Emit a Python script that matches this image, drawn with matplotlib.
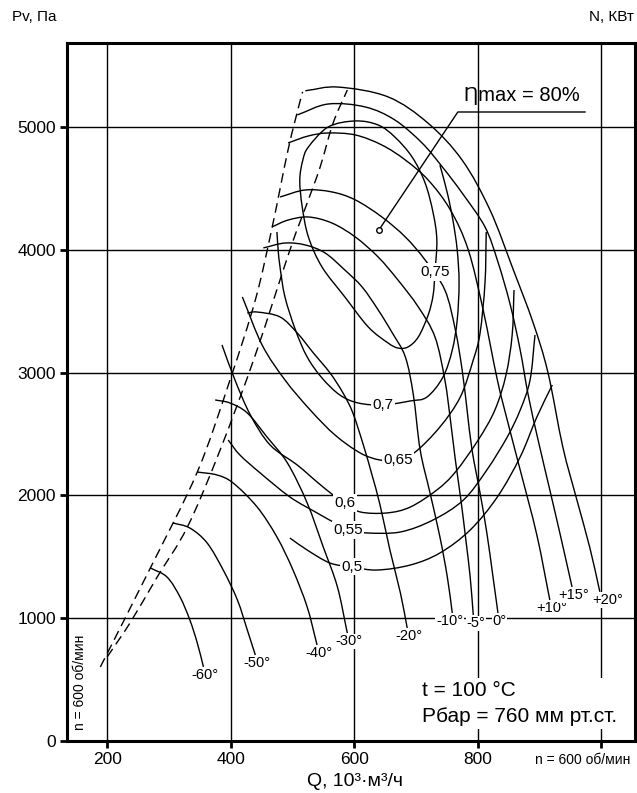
import numpy as np
import matplotlib.pyplot as plt
from matplotlib.path import Path
from matplotlib.patches import PathPatch

plt.rcParams["font.family"] = ["Liberation Sans", "DejaVu Sans"]

# Q in 10^3 m3/h, Pv in Pa
# blade angle curves
ANGLE_LABELS = ["-60°", "-50°", "-40°", "-30°", "-20°", "-10°", "-5°", "0°", "+10°", "+15°", "+20°"]

Q_M60 = [270, 297, 318, 334, 346, 356]
P_M60 = [1409, 1335, 1173, 985, 798, 603]
Q_M50 = [307, 334, 362, 388, 411, 427, 440]
P_M50 = [1775, 1734, 1612, 1392, 1148, 904, 700]
Q_M40 = [346, 378, 404, 443, 475, 501, 524, 540]
P_M40 = [2190, 2166, 2101, 1905, 1661, 1392, 1091, 782]
Q_M30 = [375, 399, 427, 459, 492, 524, 550, 573, 589]
P_M30 = [2777, 2752, 2671, 2475, 2264, 1938, 1580, 1254, 879]
Q_M20 = [427, 443, 480, 508, 534, 561, 582, 598, 615, 629, 642, 658, 675, 686]
P_M20 = [3485, 3493, 3453, 3322, 3160, 2997, 2834, 2671, 2410, 2166, 1922, 1555, 1205, 920]
Q_M10 = [453, 488, 521, 553, 585, 613, 639, 662, 683, 696, 707, 723, 739, 751, 759]
P_M10 = [4015, 4055, 4039, 3974, 3835, 3697, 3510, 3322, 3127, 2817, 2370, 2019, 1661, 1335, 1042]
Q_M5 = [467, 493, 526, 564, 602, 639, 671, 704, 731, 747, 756, 764, 773, 781, 788, 793]
P_M5 = [4186, 4242, 4267, 4218, 4104, 3941, 3754, 3534, 3290, 2940, 2614, 2288, 1962, 1637, 1335, 1026]
Q_0 = [480, 521, 564, 602, 645, 683, 715, 747, 764, 775, 783, 791, 804, 815, 825, 833]
P_0 = [4430, 4487, 4471, 4406, 4267, 4104, 3917, 3672, 3347, 3021, 2695, 2370, 2019, 1694, 1335, 1042]
Q_P10 = [493, 526, 558, 602, 645, 683, 720, 756, 785, 809, 832, 848, 869, 896, 917]
P_P10 = [4870, 4927, 4951, 4935, 4853, 4731, 4568, 4324, 3998, 3510, 2940, 2614, 2207, 1677, 1148]
Q_P15 = [508, 558, 618, 666, 710, 743, 775, 812, 833, 853, 869, 882, 898, 917, 934, 953]
P_P15 = [5098, 5187, 5163, 5057, 4870, 4674, 4462, 4186, 3900, 3550, 3184, 2817, 2451, 2044, 1677, 1254]
Q_P20 = [521, 574, 655, 720, 775, 820, 858, 890, 914, 938, 961, 982, 998]
P_P20 = [5295, 5325, 5245, 5030, 4730, 4325, 3835, 3405, 3000, 2395, 1960, 1570, 1215]

# efficiency contours
ETA_LABELS = ["0,75", "0,7", "0,65", "0,6", "0,55", "0,5"]
ETA_LABEL_IDX = [11, 9, 7, 7, 6, 3]

Q_E75 = [512, 517, 526, 558, 602, 639, 666, 694, 715, 728, 734, 731, 728, 720,
         704, 687, 671, 655, 623, 585, 548, 526, 516, 512]
P_E75 = [4568, 4731, 4837, 5000, 5049, 5016, 4918, 4755, 4544, 4300, 4080, 3819, 3632, 3469,
         3290, 3208, 3200, 3241, 3371, 3616, 3860, 4104, 4348, 4568]
Q_E70 = [475, 477, 480, 488, 505, 524, 548, 577, 607, 647, 691, 718, 744, 759, 767, 770, 767, 760, 751, 739]
P_E70 = [4145, 3998, 3860, 3616, 3347, 3127, 2956, 2817, 2752, 2736, 2769, 2801, 2964, 3184, 3428,
         3730, 3998, 4242, 4462, 4690]
Q_E65 = [419, 451, 488, 529, 569, 610, 642, 671, 699, 739, 772, 793, 804, 812, 814]
P_E65 = [3616, 3225, 2940, 2695, 2492, 2345, 2288, 2288, 2353, 2557, 2801, 3103, 3322, 3730, 4145]
Q_E60 = [386, 407, 432, 464, 508, 540, 566, 585, 610, 653, 691, 734, 764, 801, 828, 846, 856, 859]
P_E60 = [3225, 2940, 2655, 2410, 2247, 2109, 2003, 1938, 1865, 1857, 1905, 2044, 2190, 2451, 2695,
         2980, 3306, 3672]
Q_E55 = [396, 415, 448, 496, 540, 569, 590, 621, 675, 728, 777, 815, 848, 869, 885, 893]
P_E55 = [2451, 2329, 2182, 1987, 1857, 1775, 1718, 1694, 1702, 1800, 1962, 2207, 2475, 2695, 2940, 3306]
Q_E50 = [496, 524, 561, 597, 637, 691, 739, 788, 832, 869, 896, 921]
P_E50 = [1653, 1555, 1449, 1417, 1392, 1433, 1531, 1718, 1987, 2313, 2638, 2899]

# surge limit lines (dashed)
Q_SURGE_L = [189, 270, 346, 399, 440, 467, 493, 513, 517]
P_SURGE_L = [603, 1409, 2190, 2940, 3591, 4177, 4813, 5220, 5285]
Q_SURGE_R = [200, 237, 281, 330, 383, 440, 496, 524, 545, 566, 589]
P_SURGE_R = [684, 961, 1335, 1743, 2370, 3143, 3998, 4381, 4674, 5032, 5301]

# best efficiency point
ETA_MAX_Q = 640
ETA_MAX_P = 4160

X_TICKS = [200, 400, 600, 800, 1000]
X_TICK_LABELS = ["200", "400", "600", "800", ""]
Y_TICKS = [0, 1000, 2000, 3000, 4000, 5000]

# small nudges so neighbouring angle labels don't collide
LABEL_NUDGE = {"-10°": -2, "-5°": 2, "+20°": 6}


def smooth_path(q, p, closed=False):
    # Catmull-Rom through the read points, drawn as cubic Bezier segments
    pts = np.column_stack([q, p]).astype(float)
    if closed:
        pts = np.vstack([pts[-2], pts, pts[1]])
    else:
        pts = np.vstack([2 * pts[0] - pts[1], pts, 2 * pts[-1] - pts[-2]])
    verts = [pts[1]]
    codes = [Path.MOVETO]
    for i in range(1, len(pts) - 2):
        p0, p1, p2, p3 = pts[i - 1], pts[i], pts[i + 1], pts[i + 2]
        verts += [p1 + (p2 - p0) / 6, p2 - (p3 - p1) / 6, p2]
        codes += [Path.CURVE4] * 3
    return Path(verts, codes)


def draw_curve(ax, q, p, closed=False, **kw):
    patch = PathPatch(smooth_path(q, p, closed), fill=False, **kw)
    ax.add_patch(patch)


fig = plt.figure(figsize=(6.37, 7.93), dpi=100)
ax = fig.add_axes([0.1052, 0.0656, 0.8917, 0.8802])
ax.set_xlim(135, 1055)
ax.set_ylim(0, 5684)

ax.set_xticks(X_TICKS)
ax.set_xticklabels(X_TICK_LABELS)
ax.set_yticks(Y_TICKS)
ax.tick_params(direction="out", length=5, width=2, labelsize=12.5, pad=3)
ax.grid(True, color="black", linewidth=1.0)
ax.set_axisbelow(True)
for s in ax.spines.values():
    s.set_linewidth(2.2)

line_kw = dict(edgecolor="black", linewidth=1.0, zorder=3)

angle_q = [Q_M60, Q_M50, Q_M40, Q_M30, Q_M20, Q_M10, Q_M5, Q_0, Q_P10, Q_P15, Q_P20]
angle_p = [P_M60, P_M50, P_M40, P_M30, P_M20, P_M10, P_M5, P_0, P_P10, P_P15, P_P20]
for q, p, lab in zip(angle_q, angle_p, ANGLE_LABELS):
    draw_curve(ax, q, p, **line_kw)
    dx = LABEL_NUDGE.get(lab, 1)
    ax.annotate(lab, (q[-1], p[-1]), xytext=(dx, -1), textcoords="offset points",
                ha="center", va="top", fontsize=10.5, zorder=6,
                bbox=dict(boxstyle="square,pad=0.05", fc="white", ec="none"))

eta_q = [Q_E75, Q_E70, Q_E65, Q_E60, Q_E55, Q_E50]
eta_p = [P_E75, P_E70, P_E65, P_E60, P_E55, P_E50]
for q, p, lab, idx in zip(eta_q, eta_p, ETA_LABELS, ETA_LABEL_IDX):
    draw_curve(ax, q, p, closed=(lab == "0,75"), **line_kw)
    ax.text(q[idx], p[idx], lab, ha="center", va="center", fontsize=11, zorder=6,
            bbox=dict(boxstyle="square,pad=0.1", fc="white", ec="none"))

dash_kw = dict(edgecolor="black", linewidth=1.0, linestyle=(0, (7, 4)), zorder=3)
draw_curve(ax, Q_SURGE_L, P_SURGE_L, **dash_kw)
draw_curve(ax, Q_SURGE_R, P_SURGE_R, **dash_kw)

# best point with leader line
ax.plot([ETA_MAX_Q], [ETA_MAX_P], "o", ms=4, mfc="white", mec="black", mew=1, zorder=7)
ax.plot([ETA_MAX_Q, 768, 974], [ETA_MAX_P, 5122, 5122], color="black", lw=1, zorder=4)
ax.text(872, 5175, "Ƞmax = 80%", ha="center", va="bottom", fontsize=14.5, zorder=6)

ax.text(0.625, 0.054, "t = 100 °C\nРбар = 760 мм рт.ст.", transform=ax.transAxes,
        ha="left", va="center", fontsize=15, linespacing=1.45, zorder=6,
        bbox=dict(boxstyle="square,pad=0.15", fc="white", ec="none"))
ax.text(0.023, 0.084, "n = 600 об/мин", transform=ax.transAxes, rotation=90,
        ha="center", va="center", fontsize=10, zorder=6)

fig.text(0.019, 0.978, "Pv, Па", ha="left", va="center", fontsize=11)
fig.text(0.995, 0.978, "N, КВт", ha="right", va="center", fontsize=11)
fig.text(0.557, 0.015, "Q, 10³·м³/ч", ha="center", va="center", fontsize=14)
fig.text(0.915, 0.041, "n = 600 об/мин", ha="center", va="center", fontsize=10)

fig.savefig("out.png", dpi=100)
